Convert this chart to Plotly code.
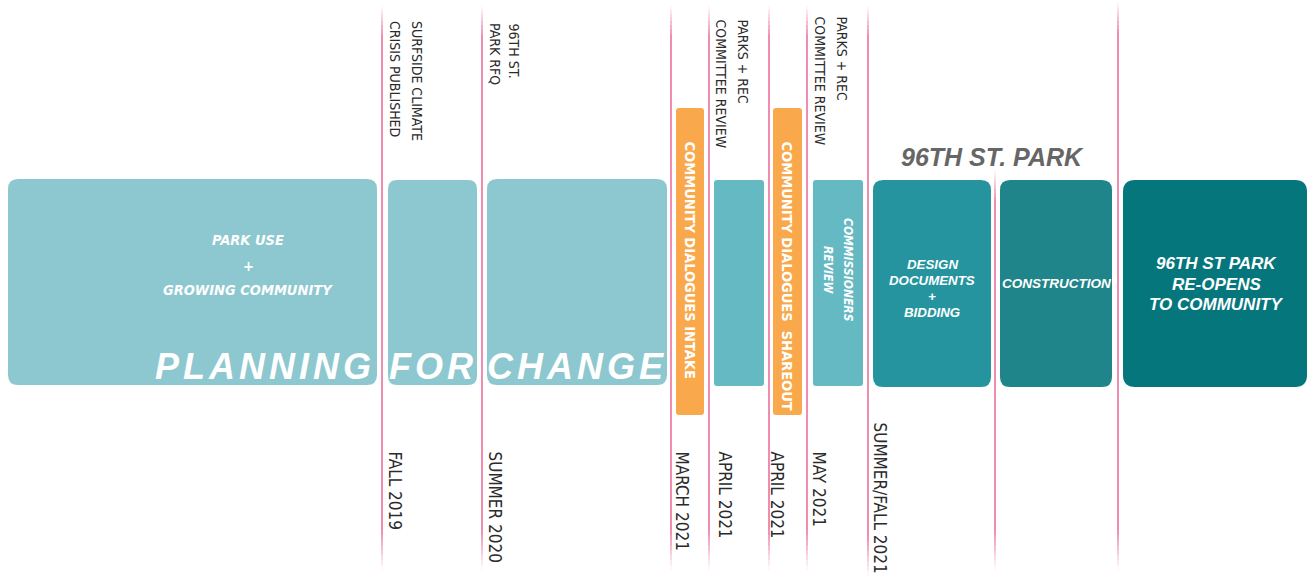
import plotly.graph_objects as go

# ---------------- data (text content) ----------------
milestone_dates = ["FALL 2019", "SUMMER 2020", "MARCH 2021", "APRIL 2021",
                   "APRIL 2021", "MAY 2021", "SUMMER/FALL 2021"]
milestone_events = [["SURFSIDE CLIMATE", "CRISIS PUBLISHED"],
                    ["96TH ST.", "PARK RFQ"],
                    ["PARKS + REC", "COMMITTEE REVIEW"],
                    ["PARKS + REC", "COMMITTEE REVIEW"]]
planning_words = ["PLANNING", "FOR", "CHANGE"]
planning_sub = ["PARK USE", "+", "GROWING COMMUNITY"]
dialogue_labels = ["COMMUNITY DIALOGUES INTAKE", "COMMUNITY DIALOGUES\u00a0\u00a0SHAREOUT"]
commission_label = ["COMMISSIONERS", "REVIEW"]
park_header = "96TH ST. PARK"
park_phases = [["DESIGN", "DOCUMENTS", "+", "BIDDING"],
               ["CONSTRUCTION"],
               ["96TH ST PARK", "RE-OPENS", "TO COMMUNITY"]]

# ---------------- layout / style constants ----------------
W, H = 1307, 581
PINK = "#F08CB0"
LIGHT = "#8DC8D0"
MID = "#65B9C3"
ORANGE = "#F9A94B"
DARK = ["#25949F", "#1F858A", "#06767D"]
TXT = "#2B2B2B"
NARROW = "Liberation Sans Narrow, DejaVu Sans Condensed, sans-serif"
ARIAL = "Liberation Sans, Arial, sans-serif"

# pink timeline dividers (x, y top, y bottom)
dividers = [(382, 6, 570), (482, 6, 570), (671, 6, 570), (709, 6, 570),
            (769, 6, 570), (807, 6, 570), (868, 6, 576), (995, 170, 570),
            (1118, 2, 570)]
# boxes: x0, y0, x1, y1, radius
light_boxes = [(8, 179, 377, 385, 10), (388, 180, 477, 385, 9), (487, 179, 667, 385, 10)]
mid_boxes = [(714, 180, 764, 386, 3), (813, 180, 863, 386, 3)]
orange_boxes = [(676, 108, 704, 415, 3), (773, 108, 802, 415, 3)]
dark_boxes = [(873, 180, 991, 387, 10), (1000, 180, 1112, 387, 10), (1123, 180, 1307, 387, 12)]


def rrect(x0, y0, x1, y1, r):
    return (f"M{x0 + r},{y0} L{x1 - r},{y0} Q{x1},{y0} {x1},{y0 + r} "
            f"L{x1},{y1 - r} Q{x1},{y1} {x1 - r},{y1} L{x0 + r},{y1} "
            f"Q{x0},{y1} {x0},{y1 - r} L{x0},{y0 + r} Q{x0},{y0} {x0 + r},{y0} Z")


shapes = []
# fading pink lines
for (x, yt, yb) in dividers:
    nf = 8
    ftop, fbot = 30, 40
    for i in range(nf):
        a = (i + 0.5) / nf
        shapes.append(dict(type="line", xref="x", yref="y", x0=x, x1=x,
                           y0=yt + ftop * i / nf, y1=yt + ftop * (i + 1) / nf,
                           line=dict(color=PINK, width=2), opacity=a, layer="below"))
        shapes.append(dict(type="line", xref="x", yref="y", x0=x, x1=x,
                           y0=yb - fbot * i / nf, y1=yb - fbot * (i + 1) / nf,
                           line=dict(color=PINK, width=2), opacity=a, layer="below"))
    shapes.append(dict(type="line", xref="x", yref="y", x0=x, x1=x,
                       y0=yt + ftop, y1=yb - fbot,
                       line=dict(color=PINK, width=2), layer="below"))

for boxes, col in [(light_boxes, [LIGHT] * 3), (mid_boxes, [MID] * 2),
                   (orange_boxes, [ORANGE] * 2), (dark_boxes, DARK)]:
    for (x0, y0, x1, y1, r), c in zip(boxes, col):
        shapes.append(dict(type="path", xref="x", yref="y", path=rrect(x0, y0, x1, y1, r),
                           fillcolor=c, line=dict(width=0), layer="above"))


def ann(x, y, text, size, color, family, angle=0, xa="center", ya="middle",
        bold=False, italic=False):
    return dict(x=x, y=y, xref="x", yref="y", text=text, showarrow=False,
                font=dict(size=size, color=color, family=family,
                          weight="bold" if bold else "normal",
                          style="italic" if italic else "normal"),
                textangle=angle, xanchor=xa, yanchor=ya, borderpad=0)


annotations = []

# top milestone events (rotated, reading downwards)
event_pos = [((417, 395), 20), ((514, 495), 22), ((743, 721), 18), ((842, 820), 15)]
for lines, (xs, ytop) in zip(milestone_events, event_pos):
    for t, xc in zip(lines, xs):
        annotations.append(ann(xc, ytop, t, 14, TXT, NARROW, angle=90, ya="top"))

# bottom dates
date_pos = [(395, 450), (495, 450), (682, 450), (725, 450), (777, 450), (819, 450), (880, 421)]
for t, (xc, ytop) in zip(milestone_dates, date_pos):
    annotations.append(ann(xc, ytop, t, 17, TXT, NARROW, angle=90, ya="top"))

# planning box sub text
for t, yc in zip(planning_sub, [240, 266, 290]):
    annotations.append(ann(248, yc, t, 14.5, "white", NARROW, bold=True, italic=True))

# PLANNING FOR CHANGE
for t, xr in zip(planning_words, [376, 478, 668]):
    annotations.append(ann(xr, 366, f'<span style="letter-spacing:4px">{t}</span>', 36,
                           "white", ARIAL, xa="right", bold=True, italic=True))

# orange dialogues
for t, xc in zip(dialogue_labels, [690, 787]):
    annotations.append(ann(xc, 140, t, 14.5, "white", NARROW, angle=90, ya="top", bold=True))

# commissioners review
for t, xc in zip(commission_label, [848, 828]):
    annotations.append(ann(xc, 270, t, 12, "white", NARROW, angle=90, bold=True, italic=True))

# 96th st park header
annotations.append(ann(992, 157, park_header, 25, "#666666", ARIAL, bold=True, italic=True))

# dark phases
phase_layout = [(932, [264, 280, 296, 312], 13.3), (1056, [283], 13.5), (1216, [263, 284, 304], 17)]
for lines, (xc, ys, sz) in zip(park_phases, phase_layout):
    for t, yc in zip(lines, ys):
        annotations.append(ann(xc, yc, t, sz, "white", ARIAL, bold=True, italic=True))

fig = go.Figure()
fig.add_trace(go.Scatter(x=[0, W], y=[0, H], mode="markers",
                         marker=dict(opacity=0), hoverinfo="skip", showlegend=False))
fig.update_layout(
    width=W, height=H, margin=dict(l=0, r=0, t=0, b=0),
    paper_bgcolor="white", plot_bgcolor="white",
    xaxis=dict(range=[0, W], visible=False, fixedrange=True),
    yaxis=dict(range=[H, 0], visible=False, fixedrange=True),
    shapes=shapes, annotations=annotations, showlegend=False,
)
fig.write_html("out.html", config={"displayModeBar": False},
               post_script="document.body.style.margin='0';document.body.style.overflow='hidden';")
